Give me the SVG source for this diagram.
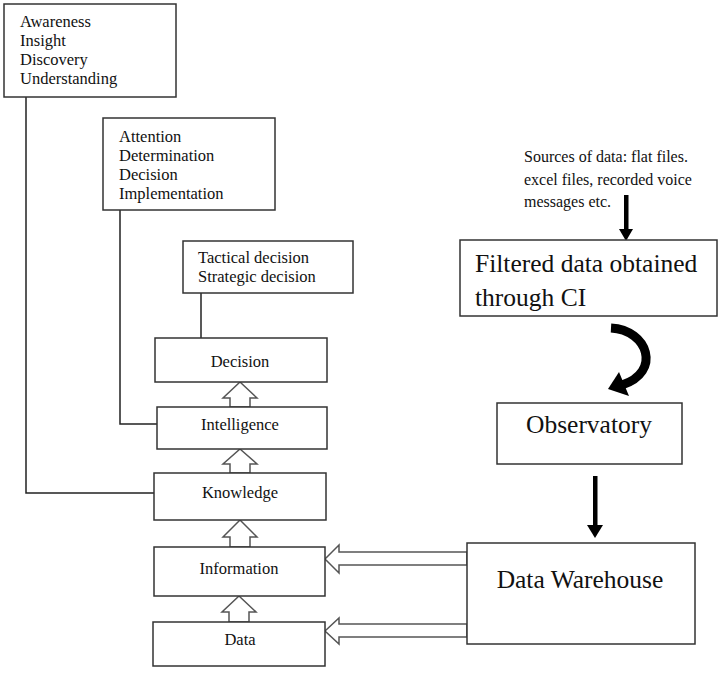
<svg xmlns="http://www.w3.org/2000/svg" width="721" height="675" viewBox="0 0 721 675">
<style>
.box{fill:#fff;stroke:#333;stroke-width:1.5}
.t{font-family:"Liberation Serif","Times New Roman",serif;fill:#111}
.s{font-size:16.5px}
.c{text-anchor:middle}
.big{font-size:25.5px}
.line{fill:none;stroke:#222;stroke-width:1.5}
.hollow{fill:#fff;stroke:#555;stroke-width:1.5;stroke-linejoin:miter}
</style>
<rect width="721" height="675" fill="#fff"/>
<g id="connectors">
<polyline class="line" points="26,97 26,493 154,493"/>
<polyline class="line" points="120,210 120,424 157,424"/>
<line class="line" x1="201" y1="293" x2="201" y2="338"/>
<polygon class="hollow" points="240,382 257,398 250,398 250,407 230,407 230,398 223,398"/>
<polygon class="hollow" points="240,449 257,464 250,464 250,473 230,473 230,464 223,464"/>
<polygon class="hollow" points="240,520 257,537 250,537 250,547 230,547 230,537 223,537"/>
<polygon class="hollow" points="239,596 256,612 249,612 249,622 229,622 229,612 222,612"/>
<polygon class="hollow" points="325,559 339,545 339,552 467,552 467,565 339,565 339,573"/>
<polygon class="hollow" points="325,631 339,618 339,624 467,624 467,637 339,637 339,644"/>
<rect x="624" y="195" width="4.5" height="35" fill="#000"/>
<polygon points="619,229 633,229 626,241" fill="#000"/>
<path d="M611,328 C648,330 662,372 622,385" fill="none" stroke="#000" stroke-width="9"/>
<polygon points="608,389 619,372 629,396" fill="#000"/>
<rect x="593" y="476" width="4.5" height="50" fill="#000"/>
<polygon points="587,525 603,525 595,538" fill="#000"/>
</g>
<g id="awareness">
<rect class="box" x="4" y="4" width="172" height="93"/>
<text class="t s" x="20" y="27">Awareness</text>
<text class="t s" x="20" y="46">Insight</text>
<text class="t s" x="20" y="65">Discovery</text>
<text class="t s" x="20" y="84">Understanding</text>
</g>
<g id="attention">
<rect class="box" x="103" y="118" width="172" height="92"/>
<text class="t s" x="119" y="142">Attention</text>
<text class="t s" x="119" y="161">Determination</text>
<text class="t s" x="119" y="180">Decision</text>
<text class="t s" x="119" y="199">Implementation</text>
</g>
<g id="tactical">
<rect class="box" x="183" y="241" width="170" height="52"/>
<text class="t s" x="198" y="263">Tactical decision</text>
<text class="t s" x="198" y="282">Strategic decision</text>
</g>
<g id="decision">
<rect class="box" x="155" y="338" width="172" height="44"/>
<text class="t s c" x="240" y="367">Decision</text>
</g>
<g id="intelligence">
<rect class="box" x="157" y="407" width="170" height="42"/>
<text class="t s c" x="240" y="430">Intelligence</text>
</g>
<g id="knowledge">
<rect class="box" x="154" y="473" width="172" height="47"/>
<text class="t s c" x="240" y="498">Knowledge</text>
</g>
<g id="information">
<rect class="box" x="154" y="547" width="171" height="49"/>
<text class="t s c" x="239" y="574">Information</text>
</g>
<g id="data">
<rect class="box" x="153" y="622" width="172" height="44"/>
<text class="t s c" x="240" y="645">Data</text>
</g>
<g id="sources">
<text class="t" font-size="16" x="524" y="162">Sources of data:  flat files.</text>
<text class="t" font-size="16" x="524" y="185">excel files, recorded voice</text>
<text class="t" font-size="16" x="524" y="207">messages etc.</text>
</g>
<g id="filtered">
<rect class="box" x="460" y="240" width="257" height="76"/>
<text class="t big" x="475" y="272">Filtered data obtained</text>
<text class="t big" x="475" y="306">through CI</text>
</g>
<g id="observatory">
<rect class="box" x="497" y="403" width="185" height="61"/>
<text class="t big c" x="589" y="433">Observatory</text>
</g>
<g id="warehouse">
<rect class="box" x="467" y="543" width="228" height="101"/>
<text class="t big c" x="580" y="588">Data Warehouse</text>
</g>
</svg>
